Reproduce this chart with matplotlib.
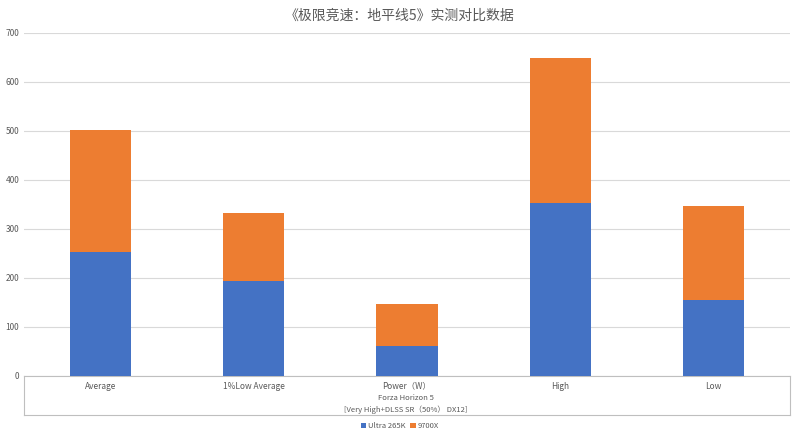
import matplotlib
matplotlib.use("Agg")
import matplotlib.pyplot as plt
from matplotlib.lines import Line2D

plt.rcParams["font.family"] = ["Noto Sans CJK SC", "DejaVu Sans"]

categories = ["Average", "1%Low Average", "Power\uff08W\uff09", "High", "Low"]
ultra_265k = [252, 193, 61, 354, 156]
r7_9700x = [251, 139, 85, 295, 191]
series_names = ["Ultra 265K", "9700X"]
colors = ["#4472C4", "#ED7D31"]

fig = plt.figure(figsize=(8, 4.38), dpi=100)
ax = fig.add_axes([0.03, 0.1416, 0.9575, 0.7831])
x = range(len(categories))
ax.bar(x, ultra_265k, width=0.4, color=colors[0], label=series_names[0], zorder=3)
ax.bar(x, r7_9700x, width=0.4, bottom=ultra_265k, color=colors[1], label=series_names[1], zorder=3)
ax.set_xlim(-0.5, len(categories) - 0.5)
ax.set_ylim(0, 700)
ax.set_yticks(range(0, 701, 100))
ax.grid(axis="y", color="#D9D9D9", linewidth=0.8, zorder=0)
for s in ["top", "right", "left"]:
    ax.spines[s].set_visible(False)
ax.spines["bottom"].set_color("#BFBFBF")
ax.tick_params(axis="both", length=0, labelsize=6, colors="#595959")
ax.set_xticks(list(x))
ax.set_xticklabels(categories)
ax.tick_params(axis="x", pad=4)

fig.text(0.5, 0.965, "\u300a\u6781\u9650\u7ade\u901f\uff1a\u5730\u5e73\u7ebf5\u300b\u5b9e\u6d4b\u5bf9\u6bd4\u6570\u636e",
         ha="center", va="center", fontsize=10, color="#595959")
fig.text(0.507, 0.078, "Forza Horizon 5\n[Very High+DLSS SR\uff0850%\uff09 DX12]",
         ha="center", va="center", fontsize=5.5, color="#595959", linespacing=1.5)
for xx in [0.03, 0.9875]:
    fig.add_artist(Line2D([xx, xx], [0.1416, 0.052], color="#BFBFBF", lw=0.8))
fig.add_artist(Line2D([0.03, 0.9875], [0.052, 0.052], color="#BFBFBF", lw=0.8))
leg = fig.legend(loc="center", bbox_to_anchor=(0.5, 0.027), ncol=2, frameon=False,
                 fontsize=5.5, handlelength=0.7, handleheight=0.7, columnspacing=0.6,
                 handletextpad=0.3)
for t in leg.get_texts():
    t.set_color("#595959")
fig.savefig("out.png", dpi=100, facecolor="white")
